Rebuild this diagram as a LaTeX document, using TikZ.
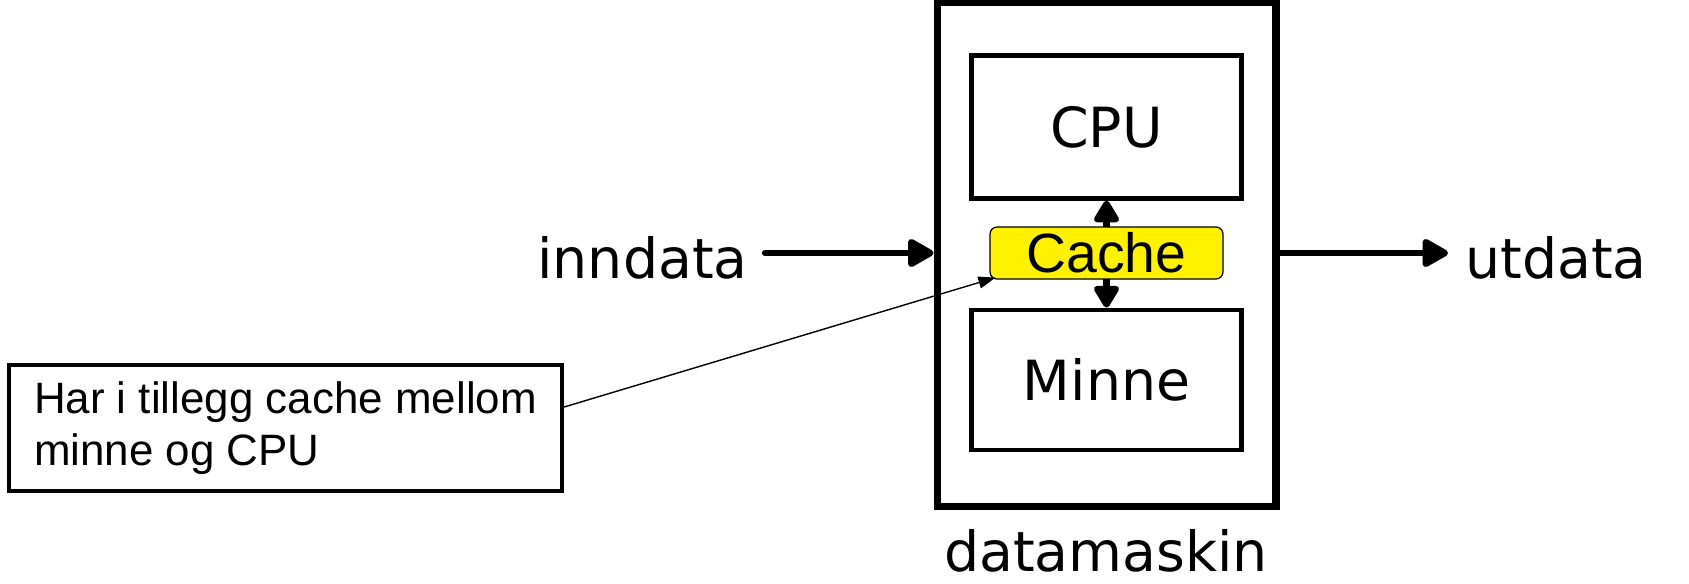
\documentclass[tikz,border=0pt]{standalone}
\usepackage{fontspec}
\setmainfont{DejaVu Sans}
\newfontfamily\arialfont{Liberation Sans}
\usetikzlibrary{arrows.meta}

\begin{document}
\begin{tikzpicture}[x=0.02cm, y=-0.02cm,
    pcBoxS/.style={draw, line width=4pt, minimum width=6.78cm, minimum height=10.1cm, inner sep=0pt},
    partBoxS/.style={draw, line width=2.8pt, minimum width=5.4cm, minimum height=2.8cm, font=\fontsize{31.5}{38}\selectfont},
    cacheS/.style={draw, fill=yellow, line width=0.7pt, rounded corners=4pt, minimum width=4.66cm, minimum height=1.04cm, inner sep=0pt, font=\arialfont\fontsize{31.5}{36}\selectfont},
    lblS/.style={inner sep=0pt, font=\fontsize{31.5}{38}\selectfont},
    noteS/.style={draw, line width=2.5pt, minimum width=11.06cm, minimum height=2.52cm, align=left, font=\arialfont\fontsize{25}{29.5}\selectfont},
    flowS/.style={-{Triangle[length=0.58cm,width=0.62cm,round]}, line width=3.6pt, line cap=round},
    busS/.style={{Triangle[length=0.5cm,width=0.56cm,round]}-{Triangle[length=0.5cm,width=0.56cm,round]}, line width=3.6pt},
    noteArrS/.style={-{Triangle[length=0.34cm,width=0.24cm]}, line width=0.8pt},
]
\useasboundingbox (0,0) rectangle (1689,584);
% datamaskin med CPU, cache og minne
\node[pcBoxS] (maskin) at (1106.5,254.5) {};
\node[partBoxS, minimum height=2.85cm] (cpu) at (1106.5,127) {CPU};
\node[partBoxS] (minne) at (1106.5,380) {Minne};
\draw[busS] (cpu.south) -- (minne.north);
\node[cacheS] (cache) at (1106.5,253) {Cache};
\node[lblS, anchor=base] (maskinlbl) at (1106,571) {datamaskin};
% inn og ut
\node[lblS, anchor=base east] (inn) at (748,278) {inndata};
\node[lblS, anchor=base west] (ut) at (1465,278) {utdata};
\draw[flowS, shorten <=0.34cm] (inn.east |- cache.west) -- (maskin.west |- cache.west);
\draw[flowS, shorten >=0.34cm] (maskin.east |- cache.east) -- (ut.west |- cache.east);
% kommentar
\node[noteS] (note) at (285.5,428) {Har i tillegg cache mellom\\minne og CPU};
\draw[noteArrS] ([yshift=0.42cm]note.east) -- ([shift={(0.12cm,0.04cm)}]cache.south west);
\end{tikzpicture}
\end{document}
